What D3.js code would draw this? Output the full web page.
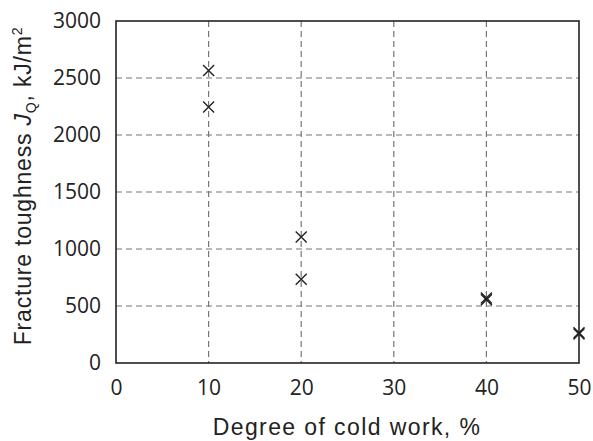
<!DOCTYPE html>
<html>
<head>
<meta charset="utf-8">
<script src="https://cdn.jsdelivr.net/npm/d3@7"></script>
<style>
  body { margin: 0; background: #fff; }
  svg { display: block; }
</style>
</head>
<body>
<svg id="chart"></svg>
<script>
// Data
const coldWork = [10, 10, 20, 20, 40, 40, 50, 50];
const toughness = [2565, 2245, 1105, 735, 555, 570, 255, 265];
const xTicks = [0, 10, 20, 30, 40, 50];
const yTicks = [0, 500, 1000, 1500, 2000, 2500, 3000];

const width = 593, height = 441;
const margin = { top: 21, right: 14, bottom: 78, left: 116 };
const innerW = width - margin.left - margin.right;
const innerH = height - margin.top - margin.bottom;

const svg = d3.select("#chart")
    .attr("width", width)
    .attr("height", height);

const g = svg.append("g")
    .attr("transform", `translate(${margin.left}, ${margin.top})`);

const xScale = d3.scaleLinear().domain([0, 50]).range([0, innerW]);
const yScale = d3.scaleLinear().domain([0, 3000]).range([innerH, 0]);

// Dashed grid
g.append("g")
    .selectAll("line")
    .data(xTicks.slice(1, -1))
    .join("line")
        .attr("x1", d => xScale(d)).attr("x2", d => xScale(d))
        .attr("y1", 0).attr("y2", innerH)
        .attr("stroke", "#777")
        .attr("stroke-width", 1.2)
        .attr("stroke-dasharray", "6,4");

g.append("g")
    .selectAll("line")
    .data(yTicks.slice(1, -1))
    .join("line")
        .attr("y1", d => yScale(d)).attr("y2", d => yScale(d))
        .attr("x1", 0).attr("x2", innerW)
        .attr("stroke", "#777")
        .attr("stroke-width", 1.2)
        .attr("stroke-dasharray", "6,4");

// Axes (labels only, frame drawn separately)
const xAxis = d3.axisBottom(xScale).tickValues(xTicks).tickFormat(d3.format("d")).tickSize(0).tickPadding(17);
const yAxis = d3.axisLeft(yScale).tickValues(yTicks).tickFormat(d3.format("d")).tickSize(0).tickPadding(15);

const gx = g.append("g")
    .attr("transform", `translate(0, ${innerH})`)
    .call(xAxis);
const gy = g.append("g").call(yAxis);

[gx, gy].forEach(a => {
    a.select(".domain").remove();
    a.selectAll("text")
        .attr("font-family", "Open Sans")
        .attr("font-size", "21px")
        .attr("fill", "#222");
});

// Frame
g.append("rect")
    .attr("width", innerW)
    .attr("height", innerH)
    .attr("fill", "none")
    .attr("stroke", "#222")
    .attr("stroke-width", 1.6);

// Cross markers
const s = 5.5;
g.append("g")
    .selectAll("path")
    .data(coldWork.map((d, i) => [d, toughness[i]]))
    .join("path")
        .attr("transform", d => `translate(${xScale(d[0])}, ${yScale(d[1])})`)
        .attr("d", `M${-s},${-s}L${s},${s}M${-s},${s}L${s},${-s}`)
        .attr("stroke", "#222")
        .attr("stroke-width", 1.4)
        .attr("fill", "none");

// X label
svg.append("text")
    .attr("x", 347)
    .attr("y", 435)
    .attr("text-anchor", "middle")
    .attr("font-family", "Liberation Sans")
    .attr("font-size", "23px")
    .attr("letter-spacing", "1.4px")
    .attr("fill", "#222")
    .text("Degree of cold work, %");

// Y label
const yl = svg.append("text")
    .attr("transform", "translate(31, 186) rotate(-90)")
    .attr("text-anchor", "middle")
    .attr("font-family", "Liberation Sans")
    .attr("font-size", "23px")
    .attr("letter-spacing", "0.8px")
    .attr("fill", "#222");
yl.append("tspan").text("Fracture toughness ");
yl.append("tspan").attr("font-style", "italic").text("J");
yl.append("tspan").attr("font-size", "14px").attr("dy", 5).text("Q");
yl.append("tspan").attr("dy", -5).text(", kJ/m");
yl.append("tspan").attr("font-size", "14px").attr("dy", -9).text("2");
</script>
</body>
</html>
